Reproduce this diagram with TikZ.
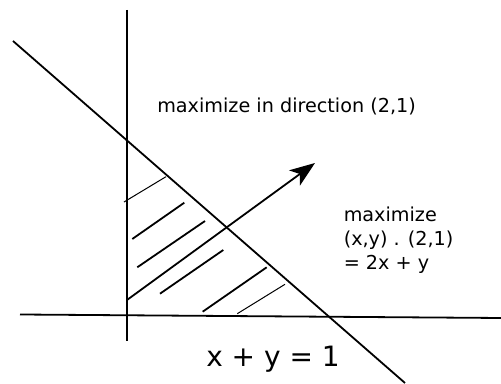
\documentclass[tikz,border=0pt]{standalone}
\usepackage{fontspec}
\setmainfont{DejaVu Sans}
\usetikzlibrary{arrows.meta, positioning}

\begin{document}
\begin{tikzpicture}[x=0.75pt, y=-0.75pt,
    axis/.style={line width=1.35pt},
    hatch/.style={line width=1.35pt},
    thinhatch/.style={line width=0.75pt},
    vec/.style={line width=1.35pt, -{Stealth[length=19pt, width=14pt, inset=5pt]}},
    txt/.style={font=\fontsize{14.4}{18}\selectfont, inner sep=0pt, anchor=base west},
    big/.style={font=\fontsize{21}{25}\selectfont, inner sep=0pt, anchor=base west}
]
\useasboundingbox (0,0) rectangle (501,384);

% axes
\coordinate (ytop) at (127,10);
\coordinate (ybot) at (127,341);
\coordinate (xleft) at (20,314.5);
\coordinate (xright) at (501,318);
\draw[axis] (ytop) -- (ybot);
\draw[axis] (xleft) -- (xright);

% constraint x + y = 1
\coordinate (cstart) at (13,41);
\coordinate (cend) at (405,383);
\draw[axis] (cstart) -- (cend);

% direction (2,1)
\coordinate (origin) at (127,300);
\coordinate (tip) at (315,163);
\draw[vec] (origin) -- (tip);

% feasible region
\draw[thinhatch] (124,202) -- (166,176.7);
\draw[hatch] (132.3,239) -- (184.3,202.7);
\draw[hatch] (137.3,267.3) -- (205,221);
\draw[hatch] (160,293.7) -- (223.3,250);
\draw[hatch] (202.7,311.7) -- (266.7,267.3);
\draw[thinhatch] (237.3,313.7) -- (285,284.3);

% labels
\node[txt] (dirlabel) at (157,113) {maximize in direction (2,1)};
\node[txt, align=left] (objlabel) at (343.5,269.5) {maximize\\(x,y) . (2,1)\\= 2x + y};
\node[big] (eqlabel) at (206,367) {x + y = 1};
\end{tikzpicture}
\end{document}
